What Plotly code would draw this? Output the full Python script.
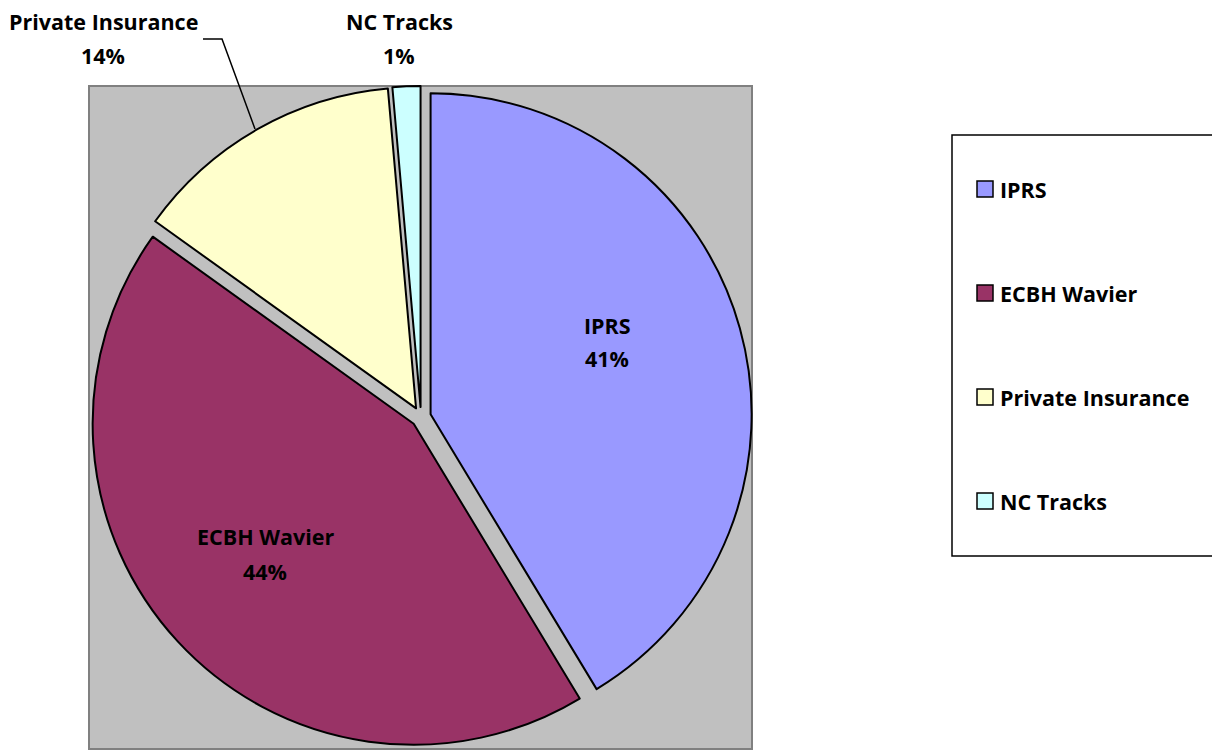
import plotly.graph_objects as go

labels = ["IPRS", "ECBH Wavier", "Private Insurance", "NC Tracks"]
values = [41.35, 43.55, 13.7, 1.4]
colors = ["#9999FF", "#993366", "#FFFFCC", "#CCFFFF"]

W, H = 1212, 750
FONT = "Open Sans"
FS = 21.5


def px(x):
    return x / W


def py(y):
    return 1 - y / H


total = sum(values)
pct = [f"{round(v / total * 100)}%" for v in values]

fig = go.Figure()
fig.add_trace(go.Pie(
    labels=labels,
    values=values,
    sort=False,
    direction="clockwise",
    rotation=0,
    pull=[0.031] * len(values),
    marker=dict(colors=colors, line=dict(color="black", width=2)),
    textinfo="none",
    hoverinfo="label+percent",
    showlegend=False,
    domain=dict(x=[px(90), px(752)], y=[py(748), py(86)]),
))

shapes = []
annotations = []

# plot area background
shapes.append(dict(type="rect", xref="paper", yref="paper",
                   x0=px(89), x1=px(752), y0=py(749), y1=py(86),
                   fillcolor="#C0C0C0", line=dict(color="#808080", width=2),
                   layer="below"))

# data labels (positions are layout, text comes from data)
# (x, y_name, y_percent)
label_pos = [(607, 325, 358), (265, 536, 571), (103, 21, 55), (399, 21, 55)]
for lab, p, (x, y1, y2) in zip(labels, pct, label_pos):
    for txt, y in ((lab, y1), (p, y2)):
        annotations.append(dict(xref="paper", yref="paper", x=px(x), y=py(y),
                                text=f"<b>{txt}</b>", showarrow=False,
                                xanchor="center", yanchor="middle",
                                font=dict(family=FONT, size=FS, color="black")))

# leader line for Private Insurance
shapes.append(dict(type="path", xref="paper", yref="paper",
                   path=f"M {px(203)} {py(39)} L {px(222)} {py(39)} L {px(255)} {py(129)}",
                   line=dict(color="black", width=1.5)))

# legend box
shapes.append(dict(type="rect", xref="paper", yref="paper",
                   x0=px(952), x1=px(1216), y0=py(556), y1=py(135),
                   fillcolor="white", line=dict(color="black", width=1.5),
                   layer="below"))
legend_y = [189, 293, 397, 501]
for lab, col, y in zip(labels, colors, legend_y):
    shapes.append(dict(type="rect", xref="paper", yref="paper",
                       x0=px(977), x1=px(993), y0=py(y + 8), y1=py(y - 8),
                       fillcolor=col, line=dict(color="black", width=1.5)))
    annotations.append(dict(xref="paper", yref="paper", x=px(998), y=py(y),
                            text=f"<b>{lab}</b>", showarrow=False,
                            xanchor="left", yanchor="middle",
                            font=dict(family=FONT, size=FS, color="black")))

fig.update_layout(
    width=W, height=H,
    margin=dict(l=0, r=0, t=0, b=0),
    paper_bgcolor="white",
    plot_bgcolor="white",
    shapes=shapes,
    annotations=annotations,
    showlegend=False,
)

fig.write_html("out.html", config={"displayModeBar": False},
               post_script="document.body.style.margin='0';document.body.style.overflow='hidden';")
